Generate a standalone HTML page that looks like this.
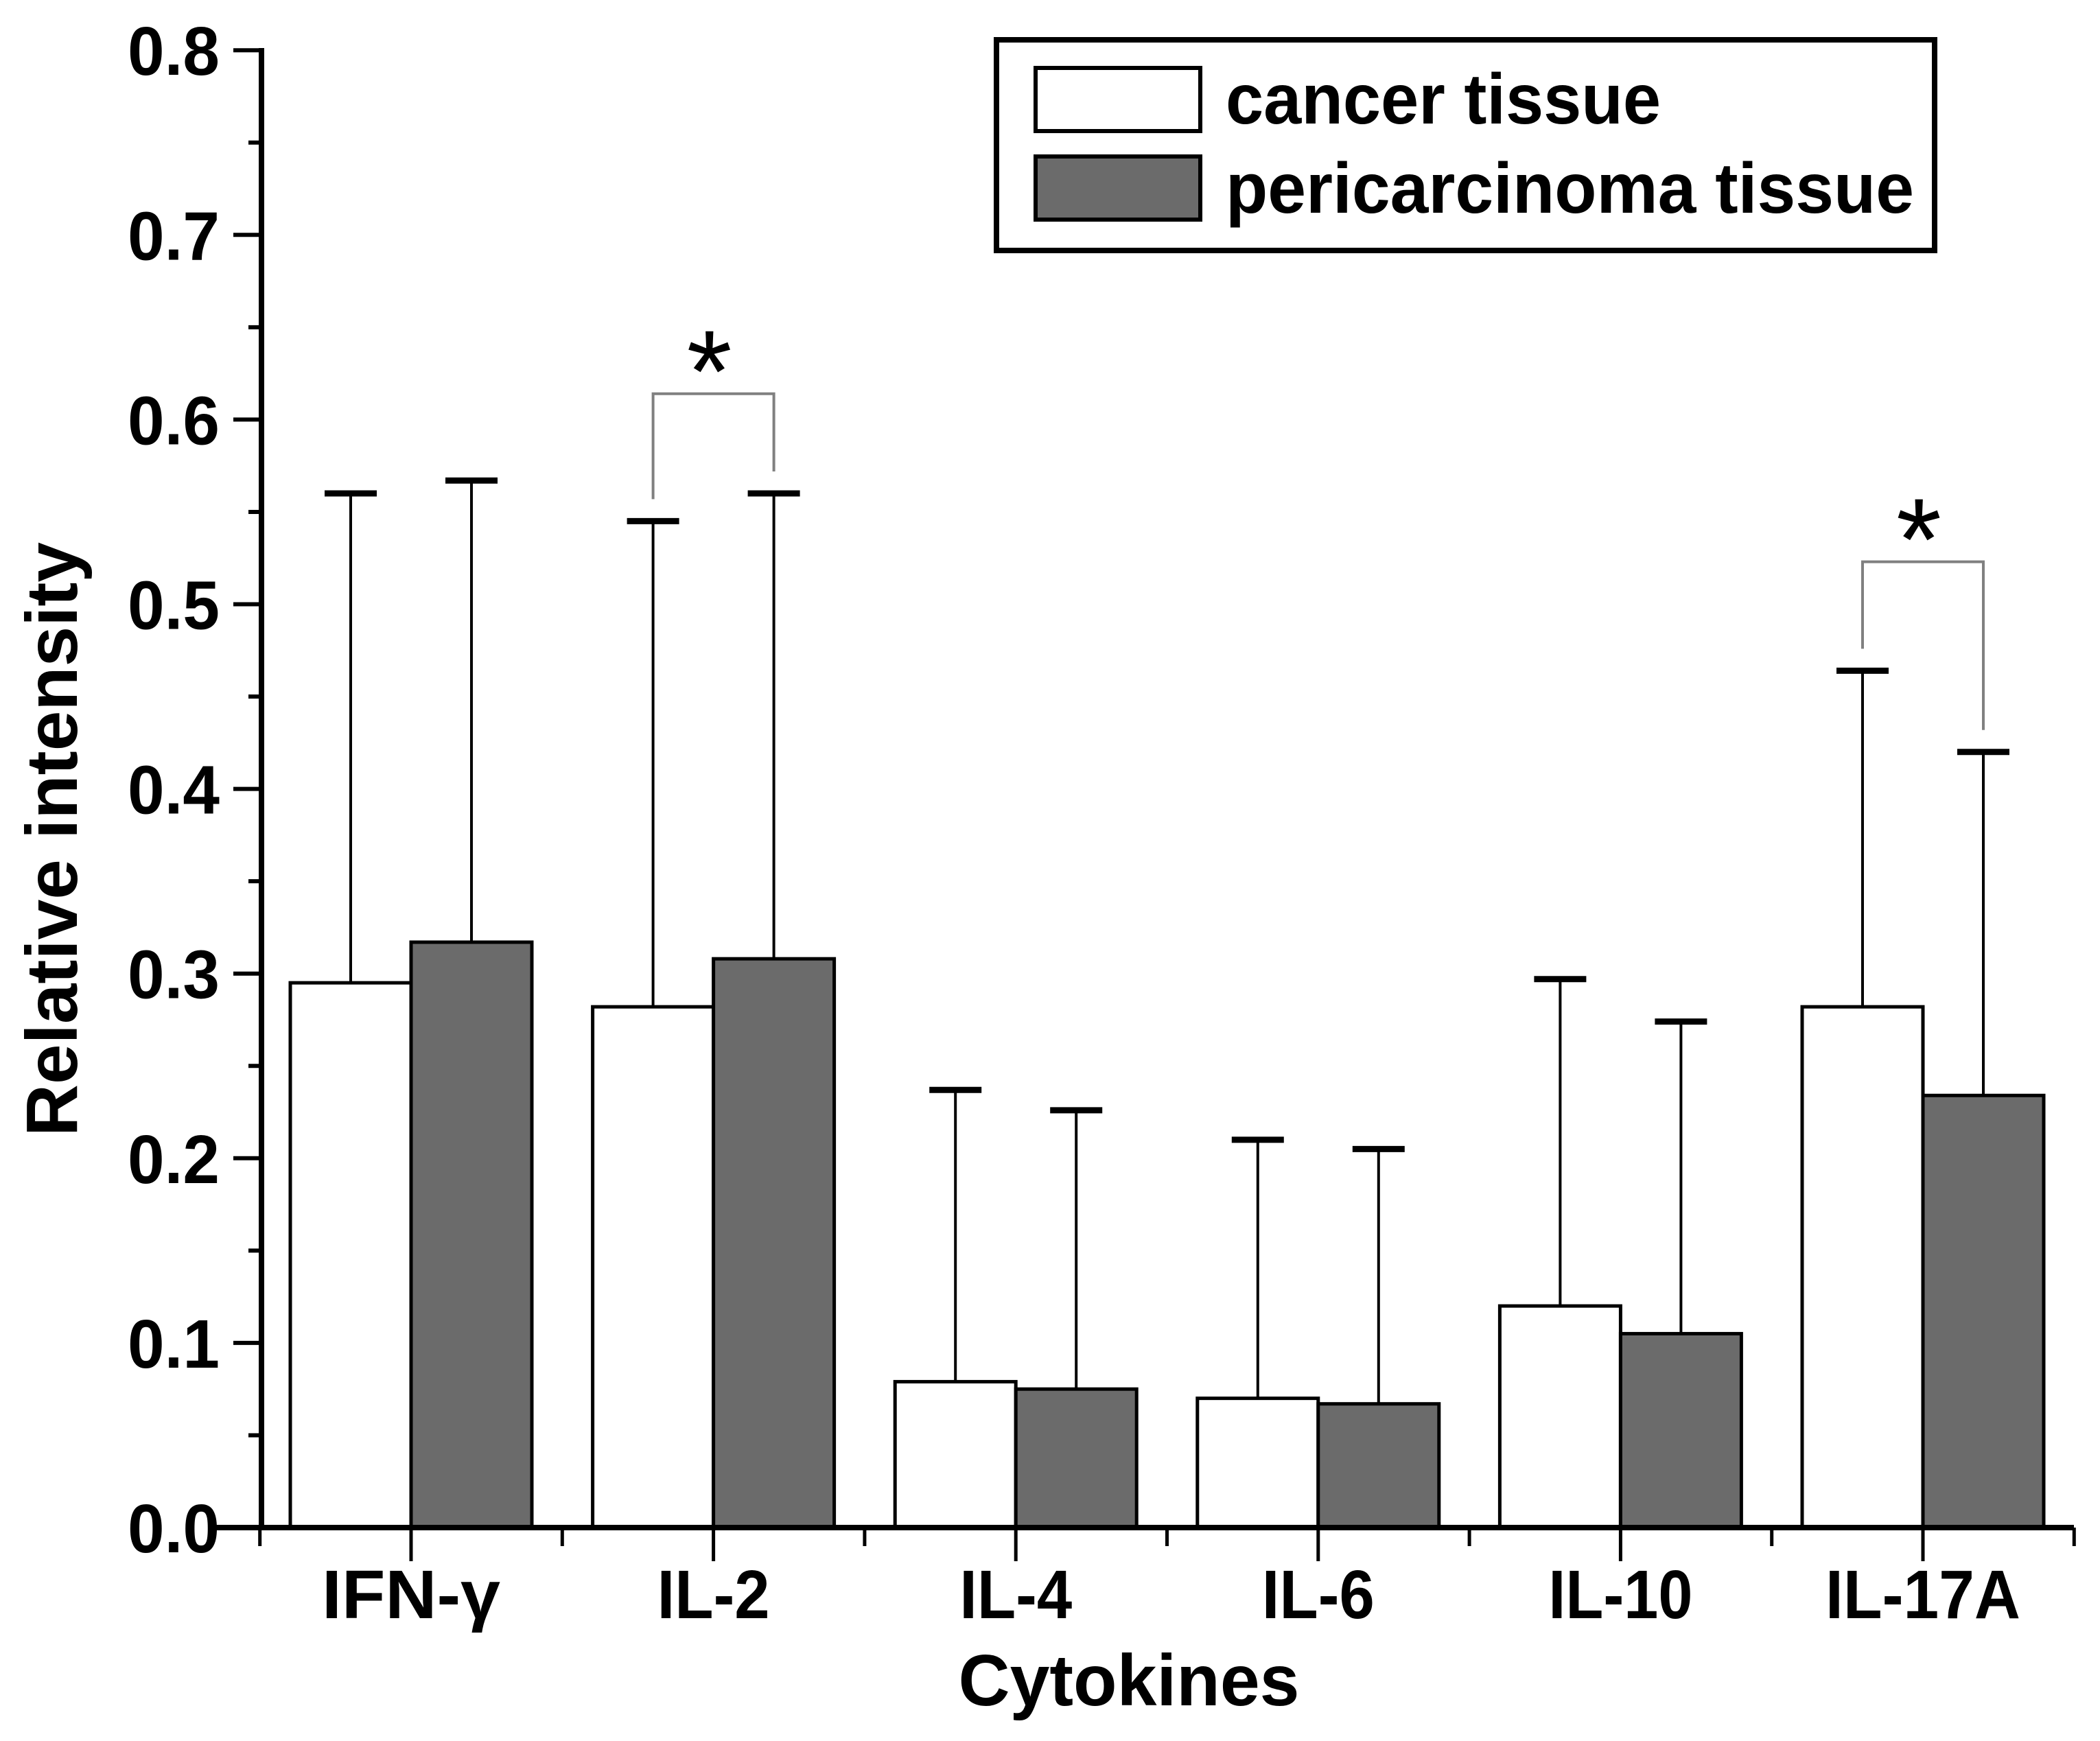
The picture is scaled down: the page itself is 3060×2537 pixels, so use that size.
<!DOCTYPE html>
<html><head><meta charset="utf-8"><style>
html,body{margin:0;padding:0;background:#fff;}
svg{display:block;}
text{font-family:"Liberation Sans",Arial,sans-serif;font-weight:bold;fill:#000;}
text.star{font-weight:normal;}
</style></head><body>
<svg id="chart" width="3060" height="2537" viewBox="0 0 3060 2537" xmlns="http://www.w3.org/2000/svg">
<g id="plot"></g>
<g>
<rect x="1452" y="58" width="1367" height="307" fill="#fff" stroke="#000" stroke-width="8"/>
<rect x="1509" y="99" width="240" height="92" fill="#fff" stroke="#000" stroke-width="6"/>
<text x="1786" y="180" font-size="104" textLength="634" lengthAdjust="spacingAndGlyphs">cancer tissue</text>
<rect x="1509" y="228" width="240" height="92" fill="#6b6b6b" stroke="#000" stroke-width="6"/>
<text x="1786" y="310" font-size="104" textLength="1003" lengthAdjust="spacingAndGlyphs">pericarcinoma tissue</text>
</g>
<text transform="translate(112,1223) rotate(-90)" text-anchor="middle" font-size="106" textLength="866" lengthAdjust="spacingAndGlyphs">Relative intensity</text>
<text x="1645" y="2485" text-anchor="middle" font-size="106" textLength="497" lengthAdjust="spacingAndGlyphs">Cytokines</text>
</svg>
<script>
const categories = ["IFN-γ","IL-2","IL-4","IL-6","IL-10","IL-17A"];
const cancerValues = [0.295,0.282,0.079,0.070,0.120,0.282];
const cancerErrors = [0.560,0.545,0.237,0.210,0.297,0.464];
const periValues = [0.317,0.308,0.075,0.067,0.105,0.234];
const periErrors = [0.567,0.560,0.226,0.205,0.274,0.420];
const yTicks = [0,0.1,0.2,0.3,0.4,0.5,0.6,0.7,0.8];
const yTickLabels = ["0.0","0.1","0.2","0.3","0.4","0.5","0.6","0.7","0.8"];
const sigPairs = [1,5];
const sigTops = [0.614,0.523];
const labelWidths = [260,164,164,164,210,284];

const NS="http://www.w3.org/2000/svg";
const g=document.getElementById('plot');
const X0=599, STEP=440.6, Y0=2226, YPX=2691;
const y=v=>Y0-v*YPX;
const cx=i=>X0+i*STEP;
const BW=176;
function mk(tag,attrs){const e=document.createElementNS(NS,tag);for(const k in attrs)e.setAttribute(k,attrs[k]);g.appendChild(e);return e;}

for(let i=0;i<categories.length;i++){
  const wx=cx(i)-BW, gx=cx(i);
  const r1=mk('rect',{x:wx,y:y(cancerValues[i]),width:BW,height:Y0-y(cancerValues[i]),fill:'#fff',stroke:'#000','stroke-width':5});
  
  
  const r2=mk('rect',{x:gx,y:y(periValues[i]),width:BW,height:Y0-y(periValues[i]),fill:'#6b6b6b',stroke:'#000','stroke-width':5});
  
  
  const pairs=[[wx+BW/2,cancerValues[i],cancerErrors[i],'cancer'],[gx+BW/2,periValues[i],periErrors[i],'pericarcinoma']];
  for(const p of pairs){
    const l=mk('line',{x1:p[0],x2:p[0],y1:y(p[1]),y2:y(p[2]),stroke:'#000','stroke-width':4});
    
    
    const c=mk('line',{x1:p[0]-38,x2:p[0]+38,y1:y(p[2]),y2:y(p[2]),stroke:'#000','stroke-width':9});
    
    
  }
  const t=mk('text',{x:cx(i),y:2358,'text-anchor':'middle','font-size':100,textLength:labelWidths[i],lengthAdjust:'spacingAndGlyphs'});
  t.textContent=categories[i];
  
  
  const tk=mk('line',{x1:cx(i),x2:cx(i),y1:Y0,y2:2275,stroke:'#000','stroke-width':5});
  
  
}
for(let i=0;i<=categories.length;i++){
  const mx=cx(i)-STEP/2;
  const m=mk('line',{x1:mx,x2:mx,y1:Y0,y2:2253,stroke:'#000','stroke-width':5});
  
  
}
for(let k=0;k<yTicks.length;k++){
  const ty=y(yTicks[k]);
  const t=mk('line',{x1:340,x2:381,y1:ty,y2:ty,stroke:'#000','stroke-width':6});
  
  
  const lb=mk('text',{x:320,y:ty+36,'text-anchor':'end','font-size':100,textLength:134,lengthAdjust:'spacingAndGlyphs'});
  lb.textContent=yTickLabels[k];
  
  
  if(k<yTicks.length-1){
    const my=y((yTicks[k]+yTicks[k+1])/2);
    const m=mk('line',{x1:362,x2:381,y1:my,y2:my,stroke:'#000','stroke-width':6});
    
    
  }
}
const xa=mk('line',{x1:312,x2:3022,y1:Y0,y2:Y0,stroke:'#000','stroke-width':8});


const ya=mk('line',{x1:381,x2:381,y1:70,y2:Y0+4,stroke:'#000','stroke-width':8});


for(let s=0;s<sigPairs.length;s++){
  const i=sigPairs[s];
  const lx=cx(i)-BW/2, rx=cx(i)+BW/2, top=y(sigTops[s]);
  const pl=mk('polyline',{points:lx+','+(y(cancerErrors[i])-32)+' '+lx+','+top+' '+rx+','+top+' '+rx+','+(y(periErrors[i])-32),fill:'none',stroke:'#808080','stroke-width':4});
  
  
  const st=mk('text',{x:cx(i)-6,y:top+26,'text-anchor':'middle','font-size':170,'class':'star'});
  st.textContent='*';
  
  
}
</script>
</body></html>
